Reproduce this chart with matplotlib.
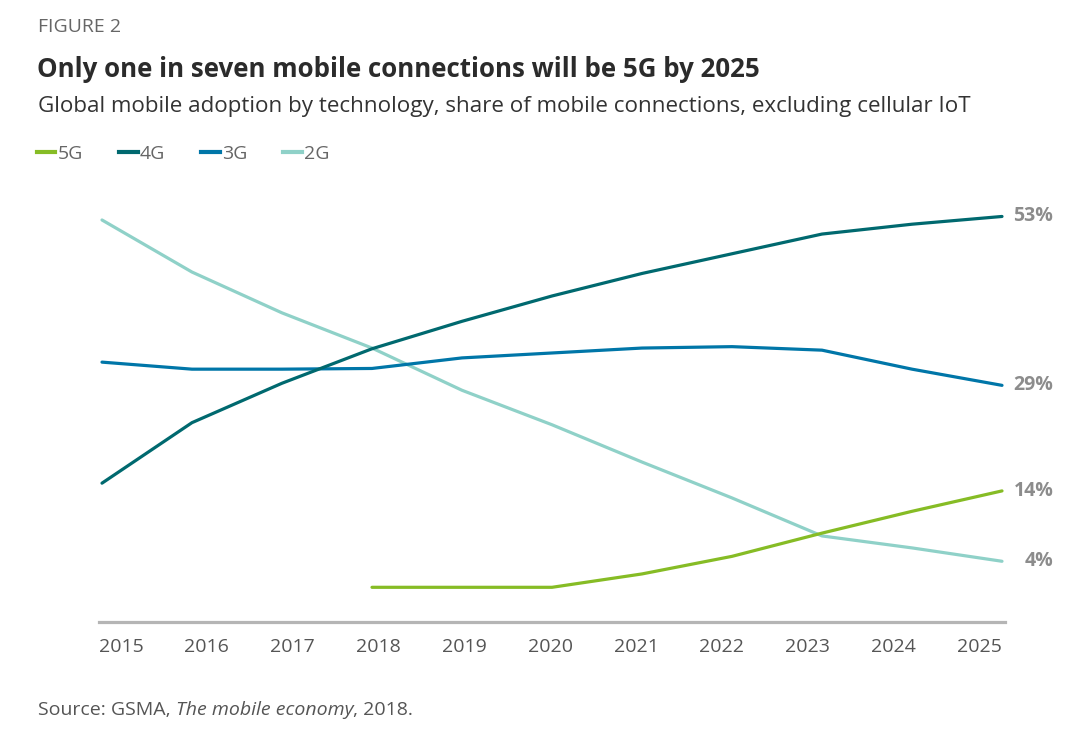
import numpy as np
import matplotlib
matplotlib.use("Agg")
import matplotlib.pyplot as plt
from matplotlib.lines import Line2D

# ---- data ----
years = [2015, 2016, 2017, 2018, 2019, 2020, 2021, 2022, 2023, 2024, 2025]
tick_labels = [str(y) for y in years]
g5 = [np.nan, np.nan, np.nan, 0.3, 0.3, 0.3, 2.2, 4.7, 8.0, 11.1, 14]
g4 = [15.1, 23.7, 29.3, 34.2, 38.1, 41.7, 44.9, 47.7, 50.5, 51.9, 53]
g3 = [32.3, 31.3, 31.3, 31.4, 32.9, 33.6, 34.3, 34.5, 34.0, 31.3, 29]
g2 = [52.5, 45.1, 39.3, 34.3, 28.3, 23.4, 18.1, 13.0, 7.6, 5.9, 4]
series_names = ["5G", "4G", "3G", "2G"]
end_labels = ["14%", "53%", "29%", "4%"]

colors = {"5G": "#86bc25", "4G": "#00696f", "3G": "#0076a8", "2G": "#8fd1c8"}

W, H = 1092, 734
fig = plt.figure(figsize=(W / 100, H / 100), dpi=100)
fig.patch.set_facecolor("white")

def fx(px):
    return px / W

def fy(py):
    return 1 - py / H

narrow = ["Liberation Sans Narrow", "Open Sans"]

ax = fig.add_axes([fx(99), fy(622), fx(1005) - fx(99), fy(200) - fy(622)])
ax.set_xlim(2015 - 3 / 90, 2025 + 3 / 90)
ax.set_ylim(-4.63, 55.34)

data = {"5G": g5, "4G": g4, "3G": g3, "2G": g2}
for name in ["2G", "3G", "4G", "5G"]:
    ax.plot(years, data[name], color=colors[name], lw=2.3,
            solid_capstyle="round", solid_joinstyle="round", zorder=3)

for name, lab in zip(series_names, end_labels):
    vals = data[name]
    ax.annotate(lab, xy=(years[-1], vals[-1]), xytext=(37, 0),
                textcoords="offset points", ha="right", va="center",
                fontsize=14, fontweight="bold", color="#8c8c8c",
                family=narrow, annotation_clip=False)

for s in ["top", "right", "left"]:
    ax.spines[s].set_visible(False)
ax.spines["bottom"].set_color("#b5b5b5")
ax.spines["bottom"].set_linewidth(2.3)
ax.set_yticks([])
# labels spread evenly along the axis line (as in the original)
tick_pos = np.linspace(2015 + 19 / 90, 2025 - 22.5 / 90, len(years))
ax.set_xticks(tick_pos)
ax.set_xticklabels(tick_labels, family="Open Sans", fontsize=14, color="#555555")
ax.tick_params(axis="x", length=0, pad=11.5)

# legend
handles = [Line2D([0], [0], color=colors[n], lw=3) for n in series_names]
leg = fig.legend(handles, series_names, loc="center left",
                 bbox_to_anchor=(fx(37), fy(154)), ncol=4, frameon=False,
                 handlelength=0.95, handletextpad=0.12, columnspacing=1.85,
                 borderpad=0, borderaxespad=0,
                 prop={"family": "Open Sans", "size": 14})
for t in leg.get_texts():
    t.set_color("#666666")

# texts
fig.text(fx(38), fy(32), "FIGURE 2", family="Open Sans", fontsize=14,
         color="#666666", va="baseline", ha="left")
title = fig.text(fx(37), fy(77), "Only one in seven mobile connections will be 5G by 2025",
                 family=narrow, fontweight="bold",
                 fontsize=20, color="#2b2b2b", va="baseline", ha="left")
fig.text(fx(38), fy(112),
         "Global mobile adoption by technology, share of mobile connections, excluding cellular IoT",
         family="Open Sans", fontsize=16.1, color="#333333", va="baseline", ha="left")

# fit title width to the reference (about 724 px wide)
fig.canvas.draw()
r = fig.canvas.get_renderer()
w = title.get_window_extent(r).width
title.set_fontsize(min(20 * 724 / w, 26.5))

# source line with italic part
src1 = fig.text(fx(38), fy(715), "Source: GSMA, ", family="Open Sans", fontsize=14,
                color="#555555", va="baseline", ha="left")
fig.canvas.draw()
bb = src1.get_window_extent(r)
src2 = fig.text(bb.x1 / W, fy(715), "The mobile economy", family="Open Sans",
                style="italic", fontsize=14, color="#555555", va="baseline", ha="left")
fig.canvas.draw()
bb2 = src2.get_window_extent(r)
fig.text(bb2.x1 / W, fy(715), ", 2018.", family="Open Sans", fontsize=14,
         color="#555555", va="baseline", ha="left")

fig.savefig("out.png", dpi=100, facecolor="white")
